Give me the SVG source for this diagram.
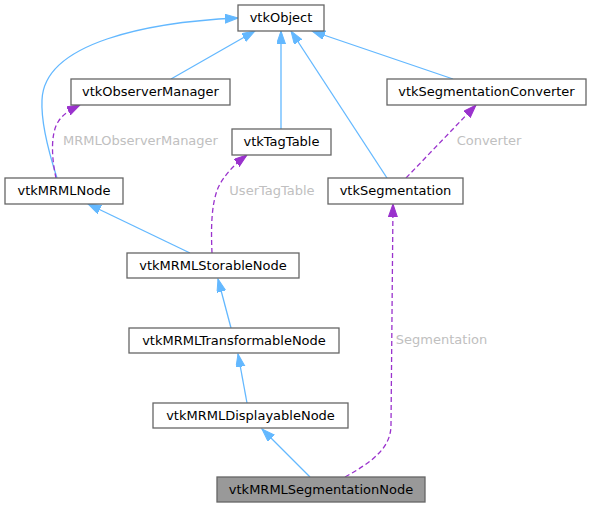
<svg xmlns="http://www.w3.org/2000/svg" width="591" height="508" viewBox="0 0 591 508">
<style>
.node rect{fill:#ffffff;stroke:#666666;stroke-width:1.3}
.node.cur rect{fill:#999999}
.node text{font-family:"DejaVu Sans",sans-serif;font-size:13px;fill:#000000;text-anchor:middle}
.inh{fill:none;stroke:#63b8ff;stroke-width:1.3}
.use{fill:none;stroke:#9a32cd;stroke-width:1.3;stroke-dasharray:5,3}
.lbl{font-family:"DejaVu Sans",sans-serif;font-size:13px;fill:#c0c0c0;text-anchor:middle}
</style>
<defs>
<marker id="ab" markerUnits="userSpaceOnUse" markerWidth="14" markerHeight="10" refX="13" refY="4.5" orient="auto" viewBox="0 0 14 10">
<path d="M0,0 L13,4.5 L0,9 Z" fill="#63b8ff" stroke="#63b8ff" stroke-width="1"/>
</marker>
<marker id="ap" markerUnits="userSpaceOnUse" markerWidth="14" markerHeight="10" refX="13" refY="4.5" orient="auto" viewBox="0 0 14 10">
<path d="M0,0 L13,4.5 L0,9 Z" fill="#9a32cd" stroke="#9a32cd" stroke-width="1"/>
</marker>
</defs>
<g id="edges">
<path class="inh" d="M171,79 L255,31" marker-end="url(#ab)"/>
<path class="inh" d="M57,178 C48,150 41,120 42,100 C44,42 150,22 238,18" marker-end="url(#ab)"/>
<path class="inh" d="M281,129 L281,31" marker-end="url(#ab)"/>
<path class="inh" d="M387,178 L291,31" marker-end="url(#ab)"/>
<path class="inh" d="M453,79 L312,31" marker-end="url(#ab)"/>
<path class="use" d="M56,178 C52,160 50,135 58,122 C63,114 70,110 80,105" marker-end="url(#ap)"/>
<path class="use" d="M212,253 C211,230 211,205 218,188 C224,175 235,164 247,155" marker-end="url(#ap)"/>
<path class="inh" d="M190,253 L88,204" marker-end="url(#ab)"/>
<path class="use" d="M406,178 L476,105" marker-end="url(#ap)"/>
<path class="use" d="M345,477 C372,462 391,448 391,425 L393,204" marker-end="url(#ap)"/>
<path class="inh" d="M231,328 L218,279" marker-end="url(#ab)"/>
<path class="inh" d="M247,403 L238,354" marker-end="url(#ab)"/>
<path class="inh" d="M310,477 L262,429" marker-end="url(#ab)"/>
<text class="lbl" x="140.5" y="145">MRMLObserverManager</text>
<text class="lbl" x="272" y="195">UserTagTable</text>
<text class="lbl" x="489" y="145">Converter</text>
<text class="lbl" x="441.5" y="344">Segmentation</text>
</g>
<g id="vtkObject" class="node"><rect x="238" y="5" width="86" height="26"/><text x="281" y="22">vtkObject</text></g>
<g id="vtkObserverManager" class="node"><rect x="71" y="79" width="159" height="26"/><text x="150.5" y="96">vtkObserverManager</text></g>
<g id="vtkSegmentationConverter" class="node"><rect x="387" y="79" width="199" height="26"/><text x="486.5" y="96">vtkSegmentationConverter</text></g>
<g id="vtkTagTable" class="node"><rect x="232" y="129" width="99" height="26"/><text x="281.5" y="146">vtkTagTable</text></g>
<g id="vtkMRMLNode" class="node"><rect x="5" y="178" width="118" height="26"/><text x="64" y="195">vtkMRMLNode</text></g>
<g id="vtkSegmentation" class="node"><rect x="328" y="178" width="135" height="26"/><text x="395.5" y="195">vtkSegmentation</text></g>
<g id="vtkMRMLStorableNode" class="node"><rect x="127" y="253" width="172" height="25"/><text x="213" y="270">vtkMRMLStorableNode</text></g>
<g id="vtkMRMLTransformableNode" class="node"><rect x="129" y="328" width="210" height="25"/><text x="234" y="345">vtkMRMLTransformableNode</text></g>
<g id="vtkMRMLDisplayableNode" class="node"><rect x="153" y="403" width="195" height="25"/><text x="250.5" y="420">vtkMRMLDisplayableNode</text></g>
<g id="vtkMRMLSegmentationNode" class="node cur"><rect x="217" y="477" width="208" height="25"/><text x="321" y="494">vtkMRMLSegmentationNode</text></g>
</svg>
